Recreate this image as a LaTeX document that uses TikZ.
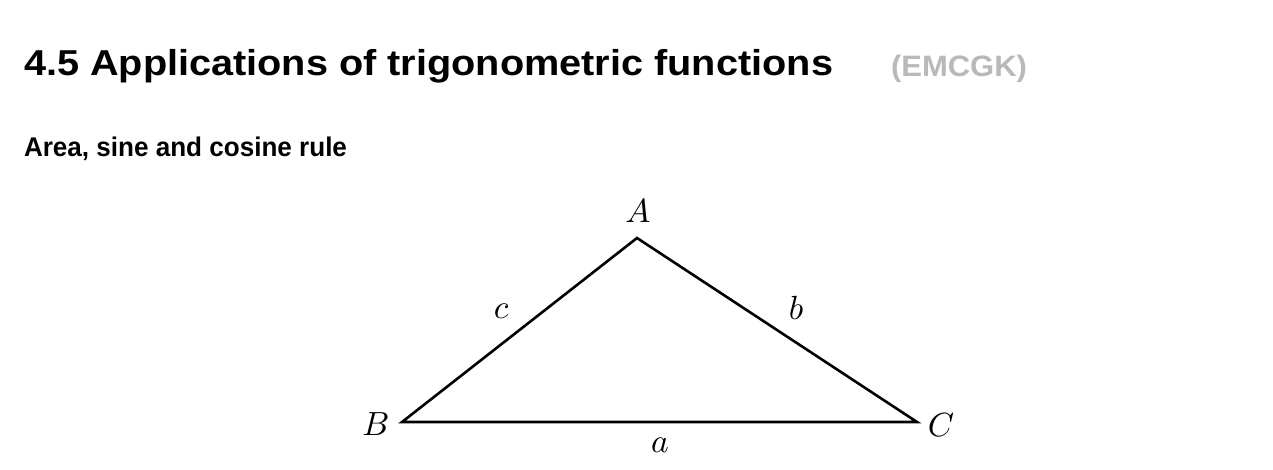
\documentclass[tikz,border=0pt]{standalone}
\usepackage{fontspec}
\usepackage{graphicx}
\newfontfamily\headfont{Liberation Sans}
\definecolor{codegray}{RGB}{185,185,185}
\newcommand{\biglabel}[1]{\scalebox{3.35}{$#1$}}
\begin{document}
\begin{tikzpicture}[x=1pt,y=-1pt,
  heading/.style={anchor=base west,inner sep=0pt,outer sep=0pt},
  mathlabel/.style={anchor=base,inner sep=0pt,outer sep=0pt,font=\fontsize{10}{12}\selectfont},
  side/.style={line width=2.6pt,line join=miter,black}]
\useasboundingbox[fill=white] (0,0) rectangle (1273,469);
\node[heading] (title) at (24,75) {\resizebox{809pt}{\height}{\headfont\bfseries\fontsize{36}{40}\selectfont 4.5 Applications of trigonometric functions}};
\node[heading,text=codegray] (code) at (891,76) {\resizebox{136pt}{\height}{\headfont\bfseries\fontsize{29.5}{34}\selectfont (EMCGK)}};
\node[heading] (sub) at (24,156) {\resizebox{323pt}{\height}{\headfont\bfseries\fontsize{27}{30}\selectfont Area, sine and cosine rule}};
\coordinate (A) at (637,238);
\coordinate (B) at (402,422);
\coordinate (C) at (917,422);
\draw[side] (A) -- (B) -- (C) -- cycle;
\node[mathlabel] (lA) at (638,222) {\biglabel{A}};
\node[mathlabel] (lB) at (376,435.5) {\biglabel{B}};
\node[mathlabel] (lC) at (941,436) {\biglabel{C}};
\node[mathlabel] (la) at (660,452) {\biglabel{a}};
\node[mathlabel] (lb) at (796,319) {\biglabel{b}};
\node[mathlabel] (lc) at (501,318) {\biglabel{c}};
\end{tikzpicture}
\end{document}
